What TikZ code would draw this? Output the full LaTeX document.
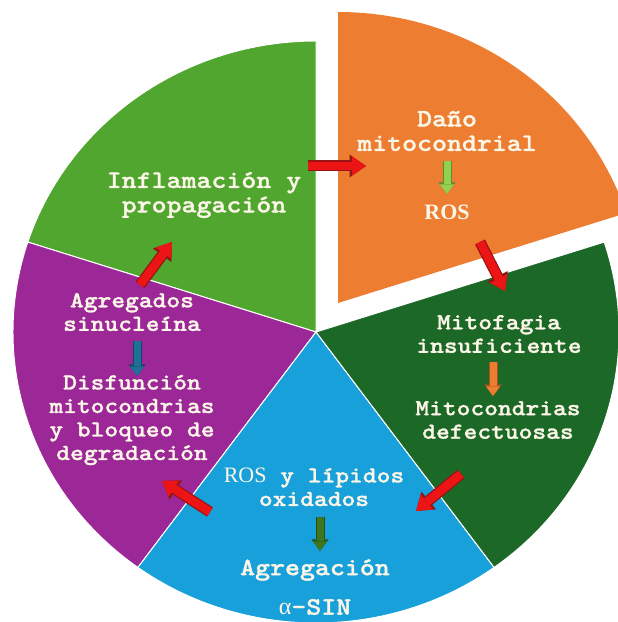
\documentclass[tikz,border=0pt]{standalone}
\usepackage{fontspec}
\setmainfont{Liberation Serif}
\newfontfamily\cour{lmmonolt10-bold.otf}[FakeStretch=1.14,FakeBold=1.2]
\usetikzlibrary{arrows.meta}
\definecolor{cOrange}{RGB}{237,125,49}
\definecolor{cGreen}{RGB}{80,166,46}
\definecolor{cDark}{RGB}{28,104,38}
\definecolor{cBlue}{RGB}{24,160,218}
\definecolor{cPurple}{RGB}{156,40,152}
\definecolor{txt}{RGB}{252,246,232}
\definecolor{cRed}{RGB}{236,20,20}
\definecolor{cRedD}{RGB}{150,20,20}
\definecolor{aLight}{RGB}{146,208,80}
\definecolor{aLightD}{RGB}{90,140,50}
\definecolor{aOr}{RGB}{237,125,49}
\definecolor{aOrD}{RGB}{170,80,30}
\definecolor{aOl}{RGB}{62,118,32}
\definecolor{aOlD}{RGB}{40,80,20}
\definecolor{aTeal}{RGB}{30,112,150}
\definecolor{aTealD}{RGB}{20,70,100}
\begin{document}
\begin{tikzpicture}[x=1pt,y=1pt,
  slice/.style={draw=white, line width=1pt},
  lbl/.style={text=txt, font=\cour\fontsize{23}{23.5}\selectfont, align=center, inner sep=0pt},
  lblbig/.style={lbl, font=\cour\fontsize{25}{24.5}\selectfont},
  redout/.style={line width=11pt, draw=cRedD, -{Triangle[width=23pt,length=16.5pt,line width=0pt]}},
  redin/.style={line width=8.5pt, draw=cRed, -{Triangle[width=19pt,length=14pt,line width=0pt]}},
  smallout/.style={line width=9pt, draw=#1, -{Triangle[width=17pt,length=11.5pt,line width=0pt]}},
  smallin/.style={line width=7pt, draw=#1, -{Triangle[width=14pt,length=9.5pt,line width=0pt]}}
]
\useasboundingbox (0,0) rectangle (618,622);
\clip (0,0) rectangle (618,622);
\coordinate (C) at (316,290);
\coordinate (O) at (338,319);
% slices
\path[fill=cGreen, slice] (C) -- +({303*cos(90)},{291*sin(90)}) arc[start angle=90, end angle=162, x radius=303, y radius=291] -- cycle;
\path[fill=cPurple, slice] (C) -- +({303*cos(162)},{291*sin(162)}) arc[start angle=162, end angle=234, x radius=303, y radius=291] -- cycle;
\path[fill=cBlue, slice] (C) -- +({303*cos(234)},{291*sin(234)}) arc[start angle=234, end angle=306, x radius=303, y radius=291] -- cycle;
\path[fill=cDark, slice] (C) -- +({303*cos(306)},{291*sin(306)}) arc[start angle=306, end angle=378, x radius=303, y radius=291] -- cycle;
\path[fill=cOrange] (O) -- +({303*cos(18)},{291*sin(18)}) arc[start angle=18, end angle=90, x radius=303, y radius=291] -- cycle;
% labels
\node[lblbig] (dano) at (447,491) {Daño\\mitocondrial};
\node[text=txt, font=\rmfamily\bfseries\fontsize{22}{24}\selectfont, inner sep=0pt] (ros) at (447,410) {ROS};
\node[lbl] (mitof) at (499,288) {Mitofagia\\insuficiente};
\node[lbl] (mitod) at (498,202) {Mitocondrias\\defectuosas};
\node[lbl] (rosl) at (314,135) {{\rmfamily\fontsize{22}{24}\selectfont ROS} y lípidos\\oxidados};
\node[lblbig] (agreg) at (315,52) {Agregación};
\node[lblbig] (asin) at (315,15) {{\rmfamily\fontsize{24}{24}\selectfont α}-SIN};
\node[lbl] (agrs) at (132,310) {Agregados\\sinucleína};
\node[lbl] (disf) at (132,202) {Disfunción\\mitocondrias\\y bloqueo de\\degradación};
\node[lblbig] (infl) at (204,427) {Inflamación y\\propagación};
% arrow end points
\coordinate (a1s) at (308,456); \coordinate (a1e) at (366,456);
\coordinate (a2s) at (480,380); \coordinate (a2e) at (505,331);
\coordinate (a3s) at (461,148); \coordinate (a3e) at (416,111);
\coordinate (a4s) at (210,110); \coordinate (a4e) at (162,141);
\coordinate (a5s) at (140,337); \coordinate (a5e) at (172,380);
\coordinate (s1s) at (447,461); \coordinate (s1e) at (447,428);
\coordinate (s2s) at (493,260); \coordinate (s2e) at (493,226);
\coordinate (s3s) at (320,105); \coordinate (s3e) at (320,71);
\coordinate (s4s) at (137,281); \coordinate (s4e) at (137,246);
% red arrows
\foreach \a in {a1,a2,a3,a4,a5}{
  \draw[redout] (\a s) -- (\a e);
  \draw[redin] (\a s) -- (\a e);
}
% small arrows
\draw[smallout=aLightD] (s1s) -- (s1e); \draw[smallin=aLight] (s1s) -- (s1e);
\draw[smallout=aOrD] (s2s) -- (s2e); \draw[smallin=aOr] (s2s) -- (s2e);
\draw[smallout=aOlD] (s3s) -- (s3e); \draw[smallin=aOl] (s3s) -- (s3e);
\draw[smallout=aTealD] (s4s) -- (s4e); \draw[smallin=aTeal] (s4s) -- (s4e);
\end{tikzpicture}
\end{document}
